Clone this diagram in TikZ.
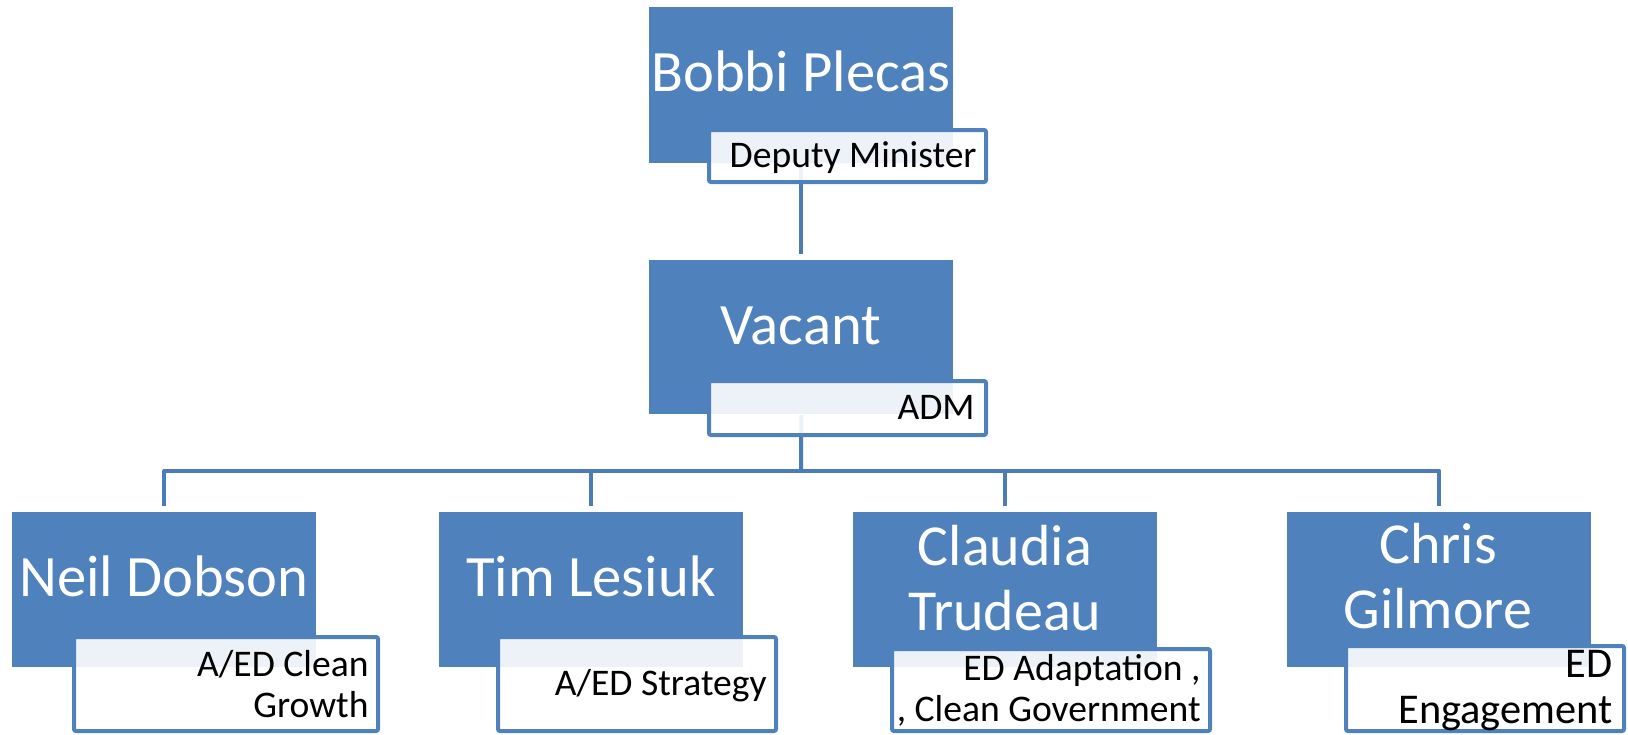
\documentclass[tikz,border=0pt]{standalone}
\usepackage{fontspec}
\setmainfont{Carlito}
\definecolor{boxblue}{HTML}{4F81BD}
\definecolor{lineblue}{HTML}{4A7DB8}
\begin{document}
\begin{tikzpicture}[x=0.5pt,y=-0.5pt,
  namebox/.style={fill=boxblue, anchor=north west, inner sep=0},
  titlebox/.style={draw=boxblue, line width=2pt, fill=white, fill opacity=0.9, anchor=north west, inner sep=0, rounded corners=1pt},
  nametext/.style={text=white, anchor=base, inner sep=0, font=\fontsize{29.3}{32.5}\selectfont},
  titletext/.style={text=black, anchor=base east, inner sep=0, font=\fontsize{18.8}{20.5}\selectfont},
  link/.style={draw=lineblue, line width=2pt, line join=round}]
\useasboundingbox (0,0) rectangle (1628,734);
% blue boxes
\node[namebox, minimum width=152pt, minimum height=78pt] (bp) at (649,7) {};
\node[namebox, minimum width=152pt, minimum height=77pt] (vac) at (649,260) {};
\node[namebox, minimum width=152pt, minimum height=77.5pt] (nd) at (12,512) {};
\node[namebox, minimum width=152pt, minimum height=77.5pt] (tl) at (439,512) {};
\node[namebox, minimum width=152pt, minimum height=77.5pt] (ct) at (853,512) {};
\node[namebox, minimum width=152pt, minimum height=77.5pt] (cg) at (1287,512) {};
% connectors
\coordinate (bar) at (801,471);
\draw[link, shorten >=3pt] (bp.south) -- (vac.north);
\draw[link] (vac.south) -- (bar);
\draw[link, shorten >=3pt] (bar) -| (nd.north);
\draw[link, shorten >=3pt] (bar) -| (tl.north);
\draw[link, shorten >=3pt] (bar) -| (ct.north);
\draw[link, shorten >=3pt] (bar) -| (cg.north);
% title boxes
\node[titlebox, minimum width=138.5pt, minimum height=26pt] (dm) at (707,128) {};
\node[titlebox, minimum width=138.5pt, minimum height=27pt] (adm) at (707,379) {};
\node[titlebox, minimum width=152pt, minimum height=47pt] (ndt) at (72,635) {};
\node[titlebox, minimum width=139pt, minimum height=47pt] (tlt) at (496,635) {};
\node[titlebox, minimum width=159pt, minimum height=41pt] (ctt) at (890,647) {};
\node[titlebox, minimum width=139pt, minimum height=42.5pt] (cgt) at (1344,644) {};
% names
\node[nametext] (bpn) at (801,91) {Bobbi Plecas};
\node[nametext] (vacn) at (801,344) {Vacant};
\node[nametext] (ndn) at (164,596) {Neil Dobson};
\node[nametext] (tln) at (591,596) {Tim Lesiuk};
\node[nametext, font=\fontsize{29}{32.5}\selectfont] (ctn) at (1005,565) {\begin{tabular}[t]{@{}c@{}}Claudia\\Trudeau\end{tabular}};
\node[nametext, font=\fontsize{29}{32.5}\selectfont] (cgn) at (1438,563) {\begin{tabular}[t]{@{}c@{}}Chris\\Gilmore\end{tabular}};
% titles
\node[titletext] (dmx) at (977,167) {Deputy Minister};
\node[titletext] (admx) at (975,419) {ADM};
\node[titletext] (ndx) at (369,676) {\begin{tabular}[t]{@{}r@{}}A/ED Clean\\Growth\end{tabular}};
\node[titletext] (tlx) at (767,695) {A/ED Strategy};
\node[titletext] (ctx) at (1201,680) {\begin{tabular}[t]{@{}r@{}}ED Adaptation ,\\, Clean Government\end{tabular}};
\node[titletext, font=\fontsize{21.2}{23}\selectfont] (cgx) at (1613,677) {\begin{tabular}[t]{@{}r@{}}ED\\Engagement\end{tabular}};
\end{tikzpicture}
\end{document}
